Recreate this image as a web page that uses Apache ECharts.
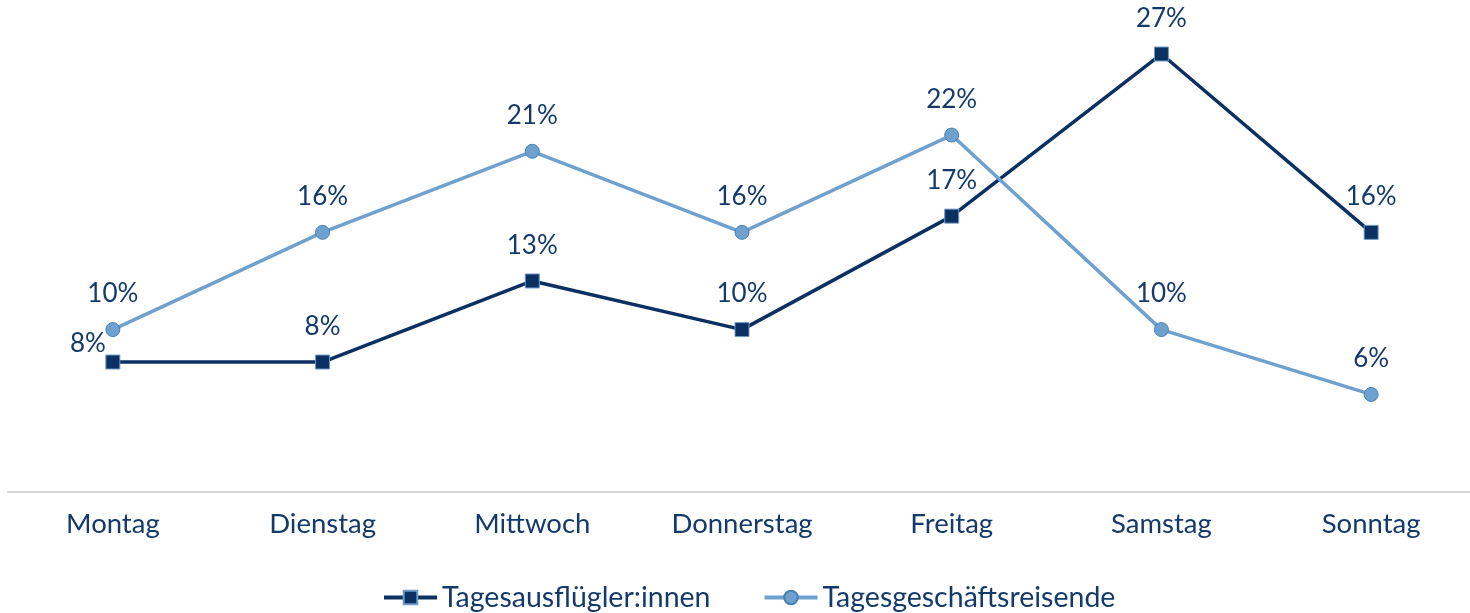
<!DOCTYPE html>
<html><head><meta charset="utf-8">
<script src="https://cdn.jsdelivr.net/npm/echarts@6/dist/echarts.min.js"></script>
<style>html,body{margin:0;padding:0;background:#fff;overflow:hidden}#c{width:1476px;height:613px}</style>
</head><body><div id="c"></div>
<script>
const categories = ['Montag','Dienstag','Mittwoch','Donnerstag','Freitag','Samstag','Sonntag'];
const seriesNames = ['Tagesausflügler:innen','Tagesgeschäftsreisende'];
const ausfluegler = [8, 8, 13, 10, 17, 27, 16];
const geschaeft = [10, 16, 21, 16, 22, 10, 6];

const FONT = 'Lato';
const TXT = '#143a6b';
const chart = echarts.init(document.getElementById('c'));
const dark = '#0b3163', light = '#6fa1cf';
const darkData = ausfluegler.map((v,i)=> i===0 ? {value:v, label:{offset:[-25,17]}} : v);
chart.setOption({
  animation:false,
  grid:{left:8, right:0, top:5.4, bottom:121.3, containLabel:false},
  xAxis:{type:'category', data:categories, boundaryGap:true,
    axisLine:{lineStyle:{color:'#d9d9d9', width:2}}, axisTick:{show:false},
    axisLabel:{color:TXT, fontFamily:FONT, fontSize:27.5, margin:18}},
  yAxis:{type:'value', min:0, max:30, show:false, splitLine:{show:false}},
  legend:{top:578, left:377, itemWidth:53, itemHeight:17, itemGap:52,
    lineStyle:{width:4},
    textStyle:{color:TXT, fontFamily:FONT, fontSize:28.5}},
  series:[
    {name:seriesNames[0], type:'line', data:darkData, symbol:'rect', symbolSize:14,
      lineStyle:{color:dark, width:3.5}, itemStyle:{color:dark, borderColor:'#6f9bc8', borderWidth:1},
      label:{show:true, position:'top', distance:15, formatter:'{c}%', color:TXT, fontFamily:FONT, fontSize:26}},
    {name:seriesNames[1], type:'line', data:geschaeft, symbol:'circle', symbolSize:14,
      lineStyle:{color:light, width:3.5}, itemStyle:{color:light, borderColor:'#4a7fb5', borderWidth:1},
      label:{show:true, position:'top', distance:15, formatter:'{c}%', color:TXT, fontFamily:FONT, fontSize:26}}
  ]
});
</script></body></html>
